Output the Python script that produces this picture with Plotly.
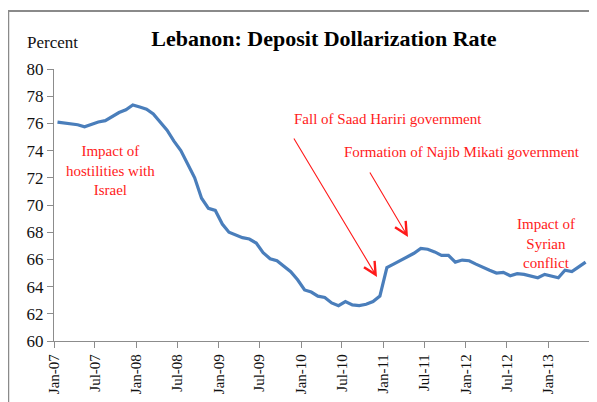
import pandas as pd
import plotly.graph_objects as go

months = pd.date_range("2007-01-01", "2013-06-01", freq="MS").strftime("%Y-%m-%d").tolist()

dollarization = [
    # 2007
    76.1, 76.05, 76.0, 75.9, 75.75, 75.95, 76.1, 76.2, 76.5, 76.8, 77.0, 77.35,
    # 2008
    77.2, 77.05, 76.7, 76.1, 75.5, 74.7, 74.0, 73.0, 72.0, 70.5, 69.75, 69.6,
    # 2009
    68.6, 68.0, 67.8, 67.6, 67.5, 67.2, 66.5, 66.05, 65.9, 65.5, 65.1, 64.5,
    # 2010
    63.75, 63.6, 63.3, 63.2, 62.8, 62.6, 62.9, 62.65, 62.6, 62.7, 62.9, 63.3,
    # 2011
    65.4, 65.65, 65.9, 66.15, 66.45, 66.8, 66.75, 66.55, 66.3, 66.3, 65.8, 65.95,
    # 2012
    65.9, 65.65, 65.4, 65.2, 65.0, 65.05, 64.8, 64.95, 64.9, 64.8, 64.65, 64.9,
    # 2013
    64.75, 64.65, 65.2, 65.1, 65.45, 65.8,
]

tick_dates = ["2007-01-01", "2007-07-01", "2008-01-01", "2008-07-01", "2009-01-01",
              "2009-07-01", "2010-01-01", "2010-07-01", "2011-01-01", "2011-07-01",
              "2012-01-01", "2012-07-01", "2013-01-01", "2013-07-01"]
tick_labels = ["Jan-07", "Jul-07", "Jan-08", "Jul-08", "Jan-09", "Jul-09", "Jan-10",
               "Jul-10", "Jan-11", "Jul-11", "Jan-12", "Jul-12", "Jan-13", ""]

y_ticks = [60, 62, 64, 66, 68, 70, 72, 74, 76, 78, 80]

FONT = "Liberation Serif"
RED = "#FF1A1A"

fig = go.Figure()
fig.add_trace(go.Scatter(
    x=months, y=dollarization, mode="lines",
    xperiod="M1", xperiodalignment="middle",
    line=dict(color="#4A7EBB", width=3.2),
    hoverinfo="x+y", showlegend=False,
))

# page has an 8px body margin: work in page pixels, convert to figure pixels
OFF = 8
W, H = 589, 394
plot_l, plot_r, plot_t, plot_b = 54, 589, 69, 341  # page pixels
ml, mt = plot_l - OFF, plot_t - OFF
pw, ph = plot_r - plot_l, plot_b - plot_t
mr, mb = W - ml - pw, H - mt - ph


def px(x):
    return (x - plot_l) / pw


def py(y):
    return (plot_b - y) / ph


fig.update_layout(
    width=W, height=H,
    margin=dict(l=ml, r=mr, t=mt, b=mb, autoexpand=False),
    paper_bgcolor="white", plot_bgcolor="white",
    font=dict(family=FONT, color="#111111", size=14),
    title=dict(text="<b>Lebanon: Deposit Dollarization Rate</b>",
               x=px(324), xref="paper", xanchor="center",
               y=1 - (38 - OFF) / H, yanchor="middle",
               font=dict(family=FONT, size=22, color="#000000")),
    xaxis=dict(
        range=["2007-01-01", "2013-07-01"],
        tickvals=tick_dates, ticktext=tick_labels,
        tickangle=-90, ticks="outside", ticklen=6, tickcolor="#8C8C8C",
        showline=True, linecolor="#8C8C8C", linewidth=1.3,
        showgrid=False, zeroline=False,
        tickfont=dict(family=FONT, size=15, color="#111111"),
    ),
    yaxis=dict(
        range=[60, 80], tickvals=y_ticks,
        ticks="outside", ticklen=6, tickcolor="#8C8C8C",
        showline=True, linecolor="#8C8C8C", linewidth=1.3,
        showgrid=False, zeroline=False,
        tickfont=dict(family=FONT, size=17, color="#111111"),
    ),
    hovermode="closest",
)

# frame border (top and left edges of the original picture)
fig.add_shape(type="line", xref="paper", yref="paper",
              x0=px(8), x1=px(597), y0=py(11), y1=py(11),
              line=dict(color="#8A8A8A", width=2))
fig.add_shape(type="line", xref="paper", yref="paper",
              x0=px(8.5), x1=px(8.5), y0=py(11), y1=py(405),
              line=dict(color="#8A8A8A", width=1.5))

annots = [
    dict(text="Percent", x=px(25), y=py(43), xanchor="left", yanchor="middle",
         font=dict(family=FONT, size=17, color="#111111")),
    dict(text="Impact of<br>hostilities with<br>Israel", x=px(110), y=py(170),
         xanchor="center", yanchor="middle",
         font=dict(family=FONT, size=15, color=RED)),
    dict(text="Fall of Saad Hariri government", x=px(292), y=py(119),
         xanchor="left", yanchor="middle",
         font=dict(family=FONT, size=15, color=RED)),
    dict(text="Formation of Najib Mikati government", x=px(342), y=py(152),
         xanchor="left", yanchor="middle",
         font=dict(family=FONT, size=15, color=RED)),
    dict(text="Impact of<br>Syrian<br>conflict", x=px(546), y=py(244),
         xanchor="center", yanchor="middle",
         font=dict(family=FONT, size=15, color=RED)),
]
for a in annots:
    fig.add_annotation(xref="paper", yref="paper", showarrow=False, **a)

# arrows
for tip, tail in [((377, 277), (293, 137)), ((408, 237), (369, 171))]:
    fig.add_annotation(xref="paper", yref="paper", x=px(tip[0]), y=py(tip[1]),
                       ax=tail[0] - tip[0], ay=tail[1] - tip[1], text="",
                       showarrow=True, arrowhead=5, arrowsize=2.2, arrowwidth=1.1,
                       arrowcolor=RED, standoff=0)

fig.write_html("out.html")
